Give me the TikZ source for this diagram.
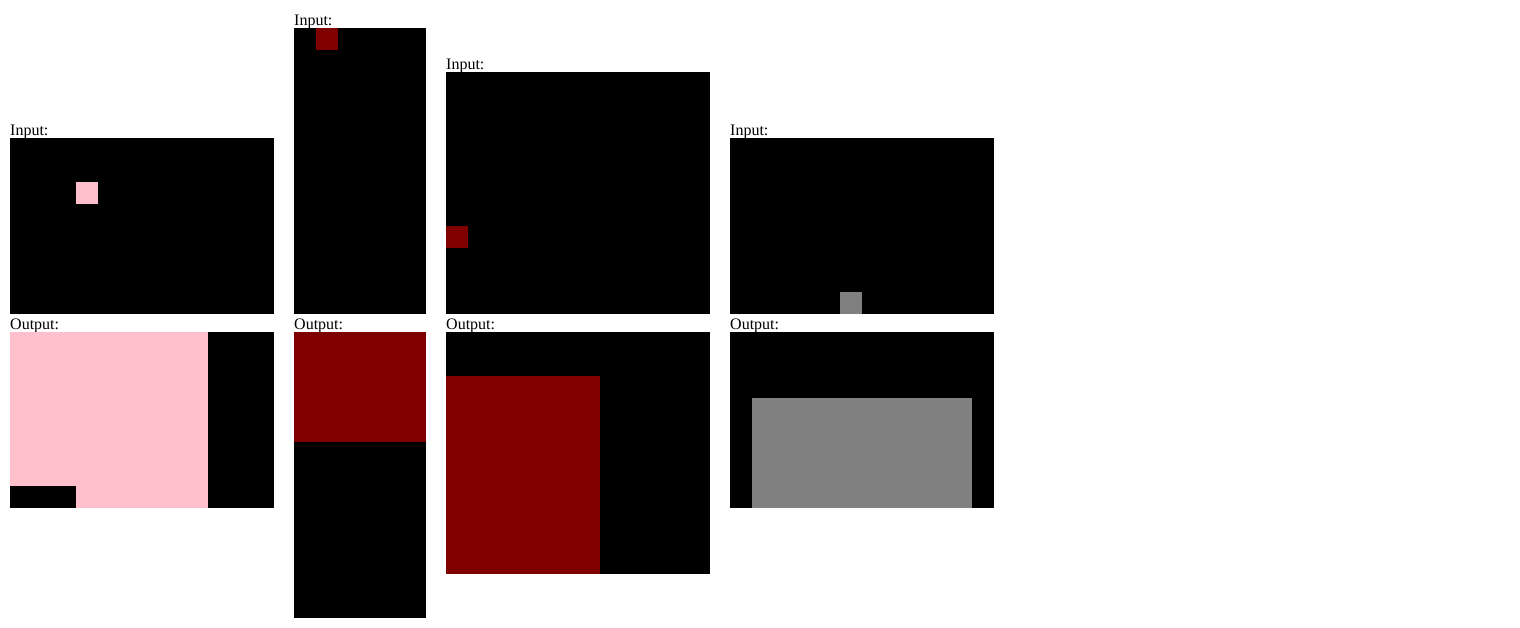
\documentclass[tikz,border=0pt]{standalone}
\usepackage{fontspec}
\setmainfont{Liberation Serif}
\definecolor{cellpink}{RGB}{255,192,203}
\definecolor{cellmaroon}{RGB}{128,0,0}
\definecolor{cellgray}{RGB}{128,128,128}

\begin{document}
\begin{tikzpicture}[
  x=1pt, y=-1pt,
  lbl/.style={anchor=base west, inner sep=0pt,
              font=\fontsize{16}{19}\selectfont},
  board/.style={fill=black},
]
  \useasboundingbox (0,0) rectangle (1520,628);

  % pair 1 (12x8)
  \node[lbl] (in1) at (10,135.5) {Input:};
  \fill[board] (10,138) rectangle (274,314);
  \fill[cellpink] (76,182) rectangle (98,204);
  \node[lbl] (out1) at (10,329.5) {Output:};
  \fill[board] (10,332) rectangle (274,508);
  \fill[cellpink] (10,332) rectangle (208,486);
  \fill[cellpink] (76,486) rectangle (208,508);

  % pair 2 (6x13)
  \node[lbl] (in2) at (294,25.5) {Input:};
  \fill[board] (294,28) rectangle (426,314);
  \fill[cellmaroon] (316,28) rectangle (338,50);
  \node[lbl] (out2) at (294,329.5) {Output:};
  \fill[board] (294,332) rectangle (426,618);
  \fill[cellmaroon] (294,332) rectangle (426,442);

  % pair 3 (12x11)
  \node[lbl] (in3) at (446,69.5) {Input:};
  \fill[board] (446,72) rectangle (710,314);
  \fill[cellmaroon] (446,226) rectangle (468,248);
  \node[lbl] (out3) at (446,329.5) {Output:};
  \fill[board] (446,332) rectangle (710,574);
  \fill[cellmaroon] (446,376) rectangle (600,574);

  % pair 4 (12x8)
  \node[lbl] (in4) at (730,135.5) {Input:};
  \fill[board] (730,138) rectangle (994,314);
  \fill[cellgray] (840,292) rectangle (862,314);
  \node[lbl] (out4) at (730,329.5) {Output:};
  \fill[board] (730,332) rectangle (994,508);
  \fill[cellgray] (752,398) rectangle (972,508);
\end{tikzpicture}
\end{document}
